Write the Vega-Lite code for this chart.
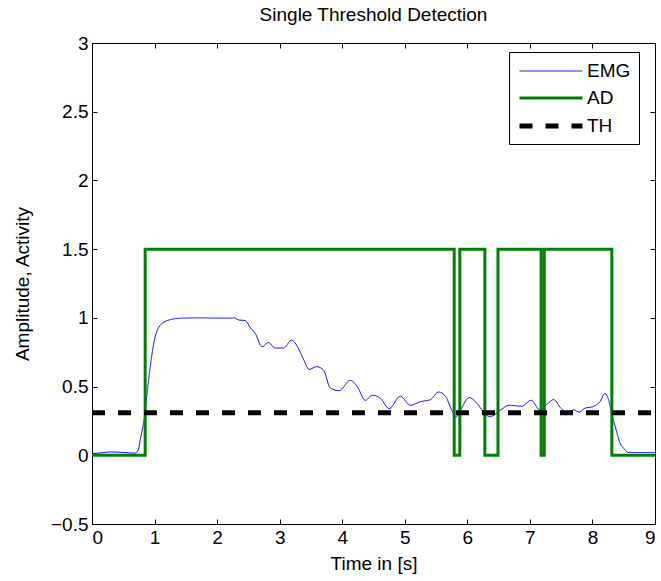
{
  "$schema": "https://vega.github.io/schema/vega-lite/v6.json",
  "width": 563,
  "height": 481,
  "autosize": "none",
  "padding": {"left": 92, "top": 43, "right": 6, "bottom": 57},
  "background": "white",
  "config": {
    "view": {"stroke": "black", "strokeWidth": 1},
    "font": "Liberation Sans",
    "axis": {
      "domainColor": "black", "domainWidth": 1,
      "tickColor": "black", "tickWidth": 1, "tickSize": -5,
      "labelColor": "black", "titleColor": "black",
      "labelFont": "Liberation Sans", "titleFont": "Liberation Sans",
      "labelFontSize": 19, "titleFontSize": 19, "titleFontWeight": "normal",
      "grid": false, "labelPadding": 9
    }
  },
  "title": {"text": "Single Threshold Detection", "fontSize": 19, "fontWeight": "normal", "font": "Liberation Sans", "color": "black", "offset": 9},
  "datasets": {
    "emg": [
      {"t": 0, "v": 0.012, "series": "EMG"},
      {"t": 0.15, "v": 0.018, "series": "EMG"},
      {"t": 0.29, "v": 0.024, "series": "EMG"},
      {"t": 0.45, "v": 0.022, "series": "EMG"},
      {"t": 0.6, "v": 0.018, "series": "EMG"},
      {"t": 0.69, "v": 0.016, "series": "EMG"},
      {"t": 0.74, "v": 0.04, "series": "EMG"},
      {"t": 0.77, "v": 0.11, "series": "EMG"},
      {"t": 0.83, "v": 0.25, "series": "EMG"},
      {"t": 0.88, "v": 0.45, "series": "EMG"},
      {"t": 0.93, "v": 0.64, "series": "EMG"},
      {"t": 0.985, "v": 0.81, "series": "EMG"},
      {"t": 1.065, "v": 0.93, "series": "EMG"},
      {"t": 1.2, "v": 0.98, "series": "EMG"},
      {"t": 1.41, "v": 0.997, "series": "EMG"},
      {"t": 1.7, "v": 1.0, "series": "EMG"},
      {"t": 2.0, "v": 0.998, "series": "EMG"},
      {"t": 2.2, "v": 0.998, "series": "EMG"},
      {"t": 2.28, "v": 1.0, "series": "EMG"},
      {"t": 2.34, "v": 0.985, "series": "EMG"},
      {"t": 2.45, "v": 0.98, "series": "EMG"},
      {"t": 2.53, "v": 0.93, "series": "EMG"},
      {"t": 2.61, "v": 0.886, "series": "EMG"},
      {"t": 2.72, "v": 0.79, "series": "EMG"},
      {"t": 2.82, "v": 0.82, "series": "EMG"},
      {"t": 2.93, "v": 0.78, "series": "EMG"},
      {"t": 3.06, "v": 0.78, "series": "EMG"},
      {"t": 3.19, "v": 0.837, "series": "EMG"},
      {"t": 3.33, "v": 0.75, "series": "EMG"},
      {"t": 3.39, "v": 0.69, "series": "EMG"},
      {"t": 3.47, "v": 0.625, "series": "EMG"},
      {"t": 3.59, "v": 0.645, "series": "EMG"},
      {"t": 3.7, "v": 0.62, "series": "EMG"},
      {"t": 3.81, "v": 0.49, "series": "EMG"},
      {"t": 3.95, "v": 0.47, "series": "EMG"},
      {"t": 4.13, "v": 0.546, "series": "EMG"},
      {"t": 4.24, "v": 0.5, "series": "EMG"},
      {"t": 4.37, "v": 0.4, "series": "EMG"},
      {"t": 4.48, "v": 0.437, "series": "EMG"},
      {"t": 4.61, "v": 0.415, "series": "EMG"},
      {"t": 4.75, "v": 0.34, "series": "EMG"},
      {"t": 4.93, "v": 0.43, "series": "EMG"},
      {"t": 5.09, "v": 0.364, "series": "EMG"},
      {"t": 5.25, "v": 0.39, "series": "EMG"},
      {"t": 5.41, "v": 0.405, "series": "EMG"},
      {"t": 5.54, "v": 0.46, "series": "EMG"},
      {"t": 5.65, "v": 0.43, "series": "EMG"},
      {"t": 5.75, "v": 0.33, "series": "EMG"},
      {"t": 5.82, "v": 0.28, "series": "EMG"},
      {"t": 5.89, "v": 0.33, "series": "EMG"},
      {"t": 6.03, "v": 0.42, "series": "EMG"},
      {"t": 6.15, "v": 0.38, "series": "EMG"},
      {"t": 6.26, "v": 0.315, "series": "EMG"},
      {"t": 6.36, "v": 0.28, "series": "EMG"},
      {"t": 6.53, "v": 0.33, "series": "EMG"},
      {"t": 6.67, "v": 0.364, "series": "EMG"},
      {"t": 6.87, "v": 0.357, "series": "EMG"},
      {"t": 7.02, "v": 0.4, "series": "EMG"},
      {"t": 7.16, "v": 0.33, "series": "EMG"},
      {"t": 7.27, "v": 0.37, "series": "EMG"},
      {"t": 7.38, "v": 0.405, "series": "EMG"},
      {"t": 7.5, "v": 0.34, "series": "EMG"},
      {"t": 7.6, "v": 0.315, "series": "EMG"},
      {"t": 7.7, "v": 0.33, "series": "EMG"},
      {"t": 7.79, "v": 0.315, "series": "EMG"},
      {"t": 7.87, "v": 0.34, "series": "EMG"},
      {"t": 8.02, "v": 0.357, "series": "EMG"},
      {"t": 8.12, "v": 0.39, "series": "EMG"},
      {"t": 8.2, "v": 0.45, "series": "EMG"},
      {"t": 8.26, "v": 0.4, "series": "EMG"},
      {"t": 8.31, "v": 0.3, "series": "EMG"},
      {"t": 8.37, "v": 0.2, "series": "EMG"},
      {"t": 8.44, "v": 0.09, "series": "EMG"},
      {"t": 8.5, "v": 0.05, "series": "EMG"},
      {"t": 8.58, "v": 0.02, "series": "EMG"},
      {"t": 9.0, "v": 0.02, "series": "EMG"}
    ],
    "ad": [
      {"t": 0, "v": 0, "series": "AD"},
      {"t": 0.85, "v": 1.5, "series": "AD"},
      {"t": 5.79, "v": 0, "series": "AD"},
      {"t": 5.88, "v": 1.5, "series": "AD"},
      {"t": 6.28, "v": 0, "series": "AD"},
      {"t": 6.49, "v": 1.5, "series": "AD"},
      {"t": 7.18, "v": 0, "series": "AD"},
      {"t": 7.23, "v": 1.5, "series": "AD"},
      {"t": 8.31, "v": 0, "series": "AD"},
      {"t": 9.0, "v": 0, "series": "AD"}
    ],
    "th": [
      {"t": 0, "v": 0.31, "series": "TH"},
      {"t": 9, "v": 0.31, "series": "TH"}
    ]
  },
  "layer": [
    {
      "layer": [
        {
          "data": {"name": "emg"},
          "mark": {"type": "line", "interpolate": "monotone"},
          "encoding": {
            "x": {"field": "t", "type": "quantitative", "scale": {"domain": [0, 9], "nice": false, "zero": false},
                  "axis": {"values": [0,1,2,3,4,5,6,7,8,9], "title": "Time in [s]", "titlePadding": 7, "format": "~g"}},
            "y": {"field": "v", "type": "quantitative", "scale": {"domain": [-0.5, 3], "nice": false, "zero": false},
                  "axis": {"values": [-0.5,0,0.5,1,1.5,2,2.5,3], "title": "Amplitude, Activity", "titlePadding": 18, "format": "~g"}},
            "color": {"field": "series", "type": "nominal", "scale": {"domain": ["EMG","AD","TH"], "range": ["#0000ff","#008000","#000000"]},
                      "legend": {"title": null, "orient": "none", "legendX": 417, "legendY": 9, "fillColor": "white", "strokeColor": "black", "padding": 8, "symbolType": "M-3,0H3", "symbolSize": 441, "symbolOffset": 21, "labelFontSize": 19, "labelFont": "Liberation Sans", "labelColor": "black", "labelOffset": 23, "rowPadding": 5}},
            "strokeDash": {"field": "series", "type": "nominal", "scale": {"domain": ["EMG","AD","TH"], "range": [[1,0],[1,0],[13,13]]},
                      "legend": {"title": null, "orient": "none", "legendX": 417, "legendY": 9, "fillColor": "white", "strokeColor": "black", "padding": 8, "symbolType": "M-3,0H3", "symbolSize": 441, "symbolOffset": 21, "labelFontSize": 19, "labelFont": "Liberation Sans", "labelColor": "black", "labelOffset": 23, "rowPadding": 5}},
            "strokeWidth": {"field": "series", "type": "nominal", "scale": {"domain": ["EMG","AD","TH"], "range": [1, 5, 3.5]},
                      "legend": {"title": null, "orient": "none", "legendX": 417, "legendY": 9, "fillColor": "white", "strokeColor": "black", "padding": 8, "symbolType": "M-3,0H3", "symbolSize": 441, "symbolOffset": 21, "labelFontSize": 19, "labelFont": "Liberation Sans", "labelColor": "black", "labelOffset": 23, "rowPadding": 5}}
          }
        },
        {
          "data": {"name": "ad"},
          "mark": {"type": "line", "interpolate": "step-after"},
          "encoding": {
            "x": {"field": "t", "type": "quantitative"},
            "y": {"field": "v", "type": "quantitative"},
            "color": {"field": "series", "type": "nominal"},
            "strokeDash": {"field": "series", "type": "nominal"},
            "strokeWidth": {"field": "series", "type": "nominal"}
          }
        },
        {
          "data": {"name": "th"},
          "mark": {"type": "line"},
          "encoding": {
            "x": {"field": "t", "type": "quantitative"},
            "y": {"field": "v", "type": "quantitative"},
            "color": {"field": "series", "type": "nominal"},
            "strokeDash": {"field": "series", "type": "nominal"},
            "strokeWidth": {"field": "series", "type": "nominal"}
          }
        }
      ]
    },
    {
      "data": {"name": "th"},
      "mark": {"type": "line", "opacity": 0},
      "encoding": {
        "x": {"field": "t", "type": "quantitative", "scale": {"domain": [0, 9], "nice": false, "zero": false},
              "axis": {"orient": "top", "values": [0,1,2,3,4,5,6,7,8,9], "labels": false, "title": null, "domain": false}},
        "y": {"field": "v", "type": "quantitative", "scale": {"domain": [-0.5, 3], "nice": false, "zero": false},
              "axis": {"orient": "right", "values": [-0.5,0,0.5,1,1.5,2,2.5,3], "labels": false, "title": null, "domain": false}}
      }
    }
  ],
  "resolve": {"scale": {"x": "independent", "y": "independent"}}
}
